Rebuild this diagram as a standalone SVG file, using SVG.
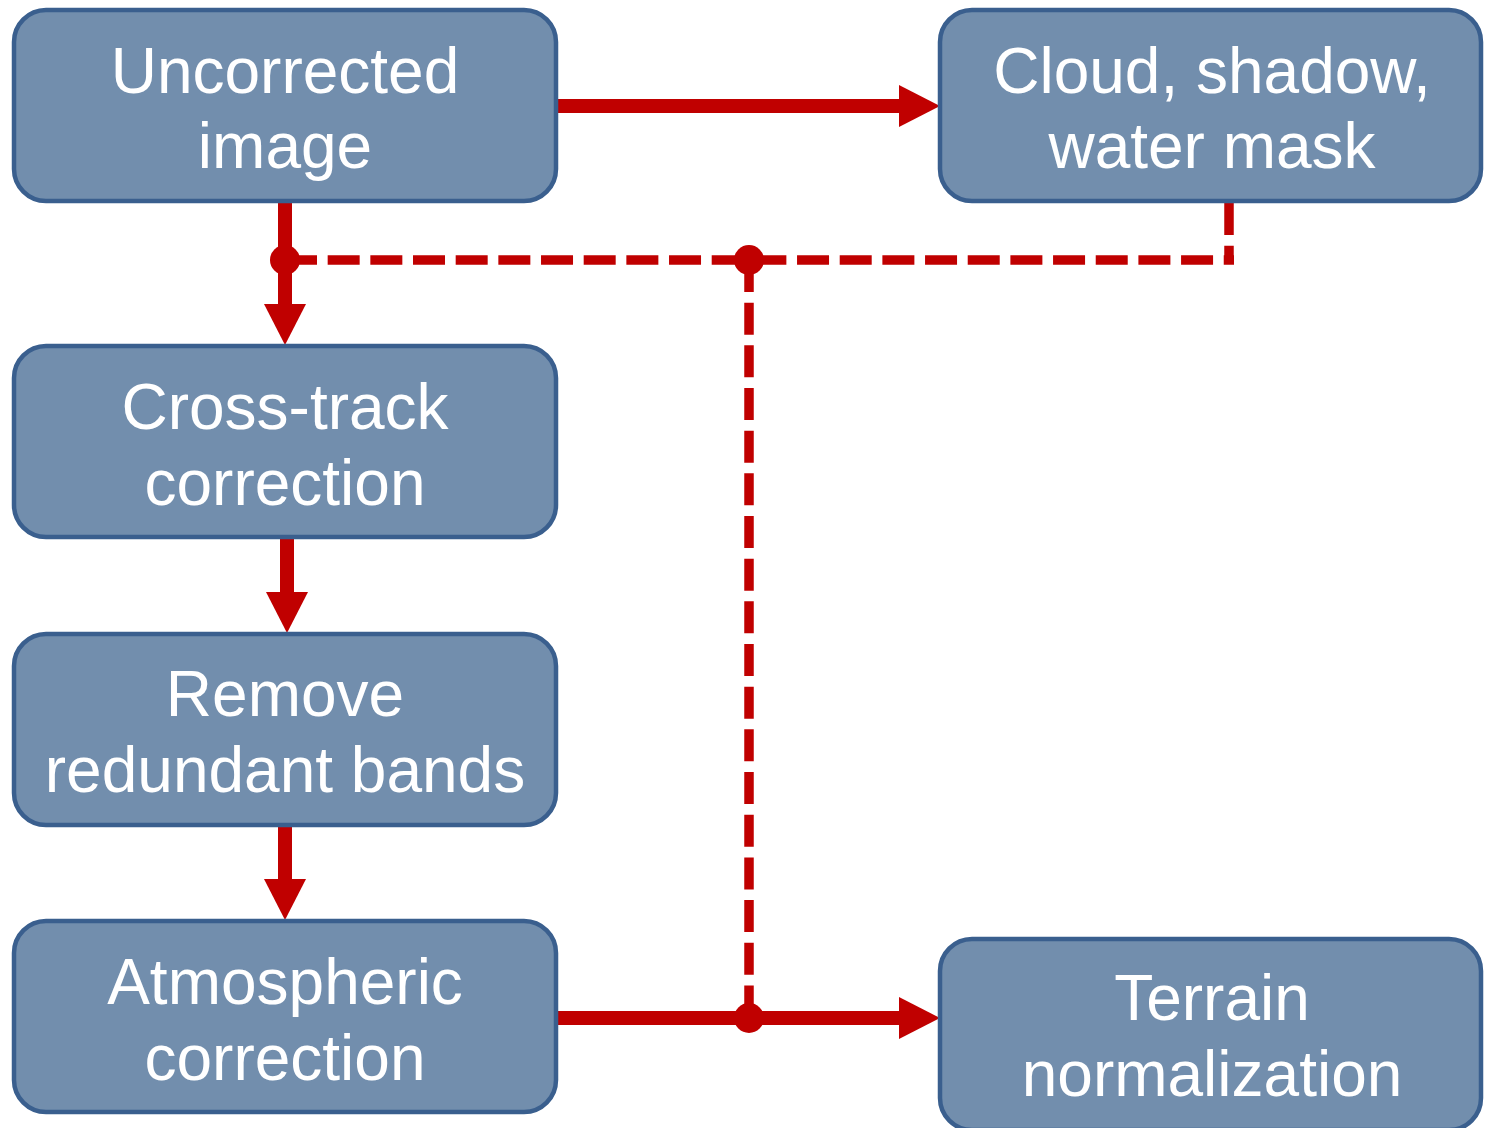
<svg xmlns="http://www.w3.org/2000/svg" width="1485" height="1128" viewBox="0 0 1485 1128">
  <style>
    .box { fill: #728EAD; stroke: #3A5F8E; stroke-width: 4.5; }
    .lbl { font-family: "Liberation Sans", Arial, sans-serif; font-size: 64px; fill: #FFFFFF; text-anchor: middle; }
    .solid { stroke: #C00000; stroke-width: 14; fill: none; }
    .dash { stroke: #C00000; stroke-width: 9.5; fill: none; stroke-dasharray: 32 10.67; }
    .dot { fill: #C00000; }
  </style>
  <defs>
    <marker id="arrow" markerUnits="userSpaceOnUse" markerWidth="42" markerHeight="42" refX="0" refY="21" orient="auto" overflow="visible">
      <path d="M0,0 L41,21 L0,42 Z" fill="#C00000"/>
    </marker>
  </defs>
  <rect width="1485" height="1128" fill="#FFFFFF"/>

  <g id="connectors">
    <line class="solid" x1="557" y1="106" x2="899" y2="106" marker-end="url(#arrow)"/>
    <line class="solid" x1="285" y1="202" x2="285" y2="304" marker-end="url(#arrow)"/>
    <line class="solid" x1="287" y1="538" x2="287" y2="592" marker-end="url(#arrow)"/>
    <line class="solid" x1="285" y1="825" x2="285" y2="879" marker-end="url(#arrow)"/>
    <line class="solid" x1="557" y1="1018" x2="899" y2="1018" marker-end="url(#arrow)"/>
    <path class="dash" d="M285,260 H1234"/>
    <path class="dash" d="M1229,203 V264"/>
    <path class="dash" d="M749,260 V1018"/>
    <circle class="dot" cx="285" cy="260" r="15"/>
    <circle class="dot" cx="749" cy="260" r="15"/>
    <circle class="dot" cx="749" cy="1018" r="15"/>
  </g>

  <g id="node-uncorrected">
    <rect class="box" x="14" y="10" width="542" height="191" rx="32"/>
    <text class="lbl" x="285" y="93">Uncorrected</text>
    <text class="lbl" x="285" y="168">image</text>
  </g>
  <g id="node-mask">
    <rect class="box" x="940" y="10" width="541" height="191" rx="32"/>
    <text class="lbl" x="1212" y="93">Cloud, shadow,</text>
    <text class="lbl" x="1212" y="168">water mask</text>
  </g>
  <g id="node-crosstrack">
    <rect class="box" x="14" y="346" width="542" height="191" rx="32"/>
    <text class="lbl" x="285" y="429">Cross-track</text>
    <text class="lbl" x="285" y="505">correction</text>
  </g>
  <g id="node-remove">
    <rect class="box" x="14" y="634" width="542" height="191" rx="32"/>
    <text class="lbl" x="285" y="716">Remove</text>
    <text class="lbl" x="285" y="792">redundant bands</text>
  </g>
  <g id="node-atmospheric">
    <rect class="box" x="14" y="921" width="542" height="191" rx="32"/>
    <text class="lbl" x="285" y="1004">Atmospheric</text>
    <text class="lbl" x="285" y="1080">correction</text>
  </g>
  <g id="node-terrain">
    <rect class="box" x="940" y="939" width="541" height="191" rx="32"/>
    <text class="lbl" x="1212" y="1020">Terrain</text>
    <text class="lbl" x="1212" y="1096">normalization</text>
  </g>
</svg>
